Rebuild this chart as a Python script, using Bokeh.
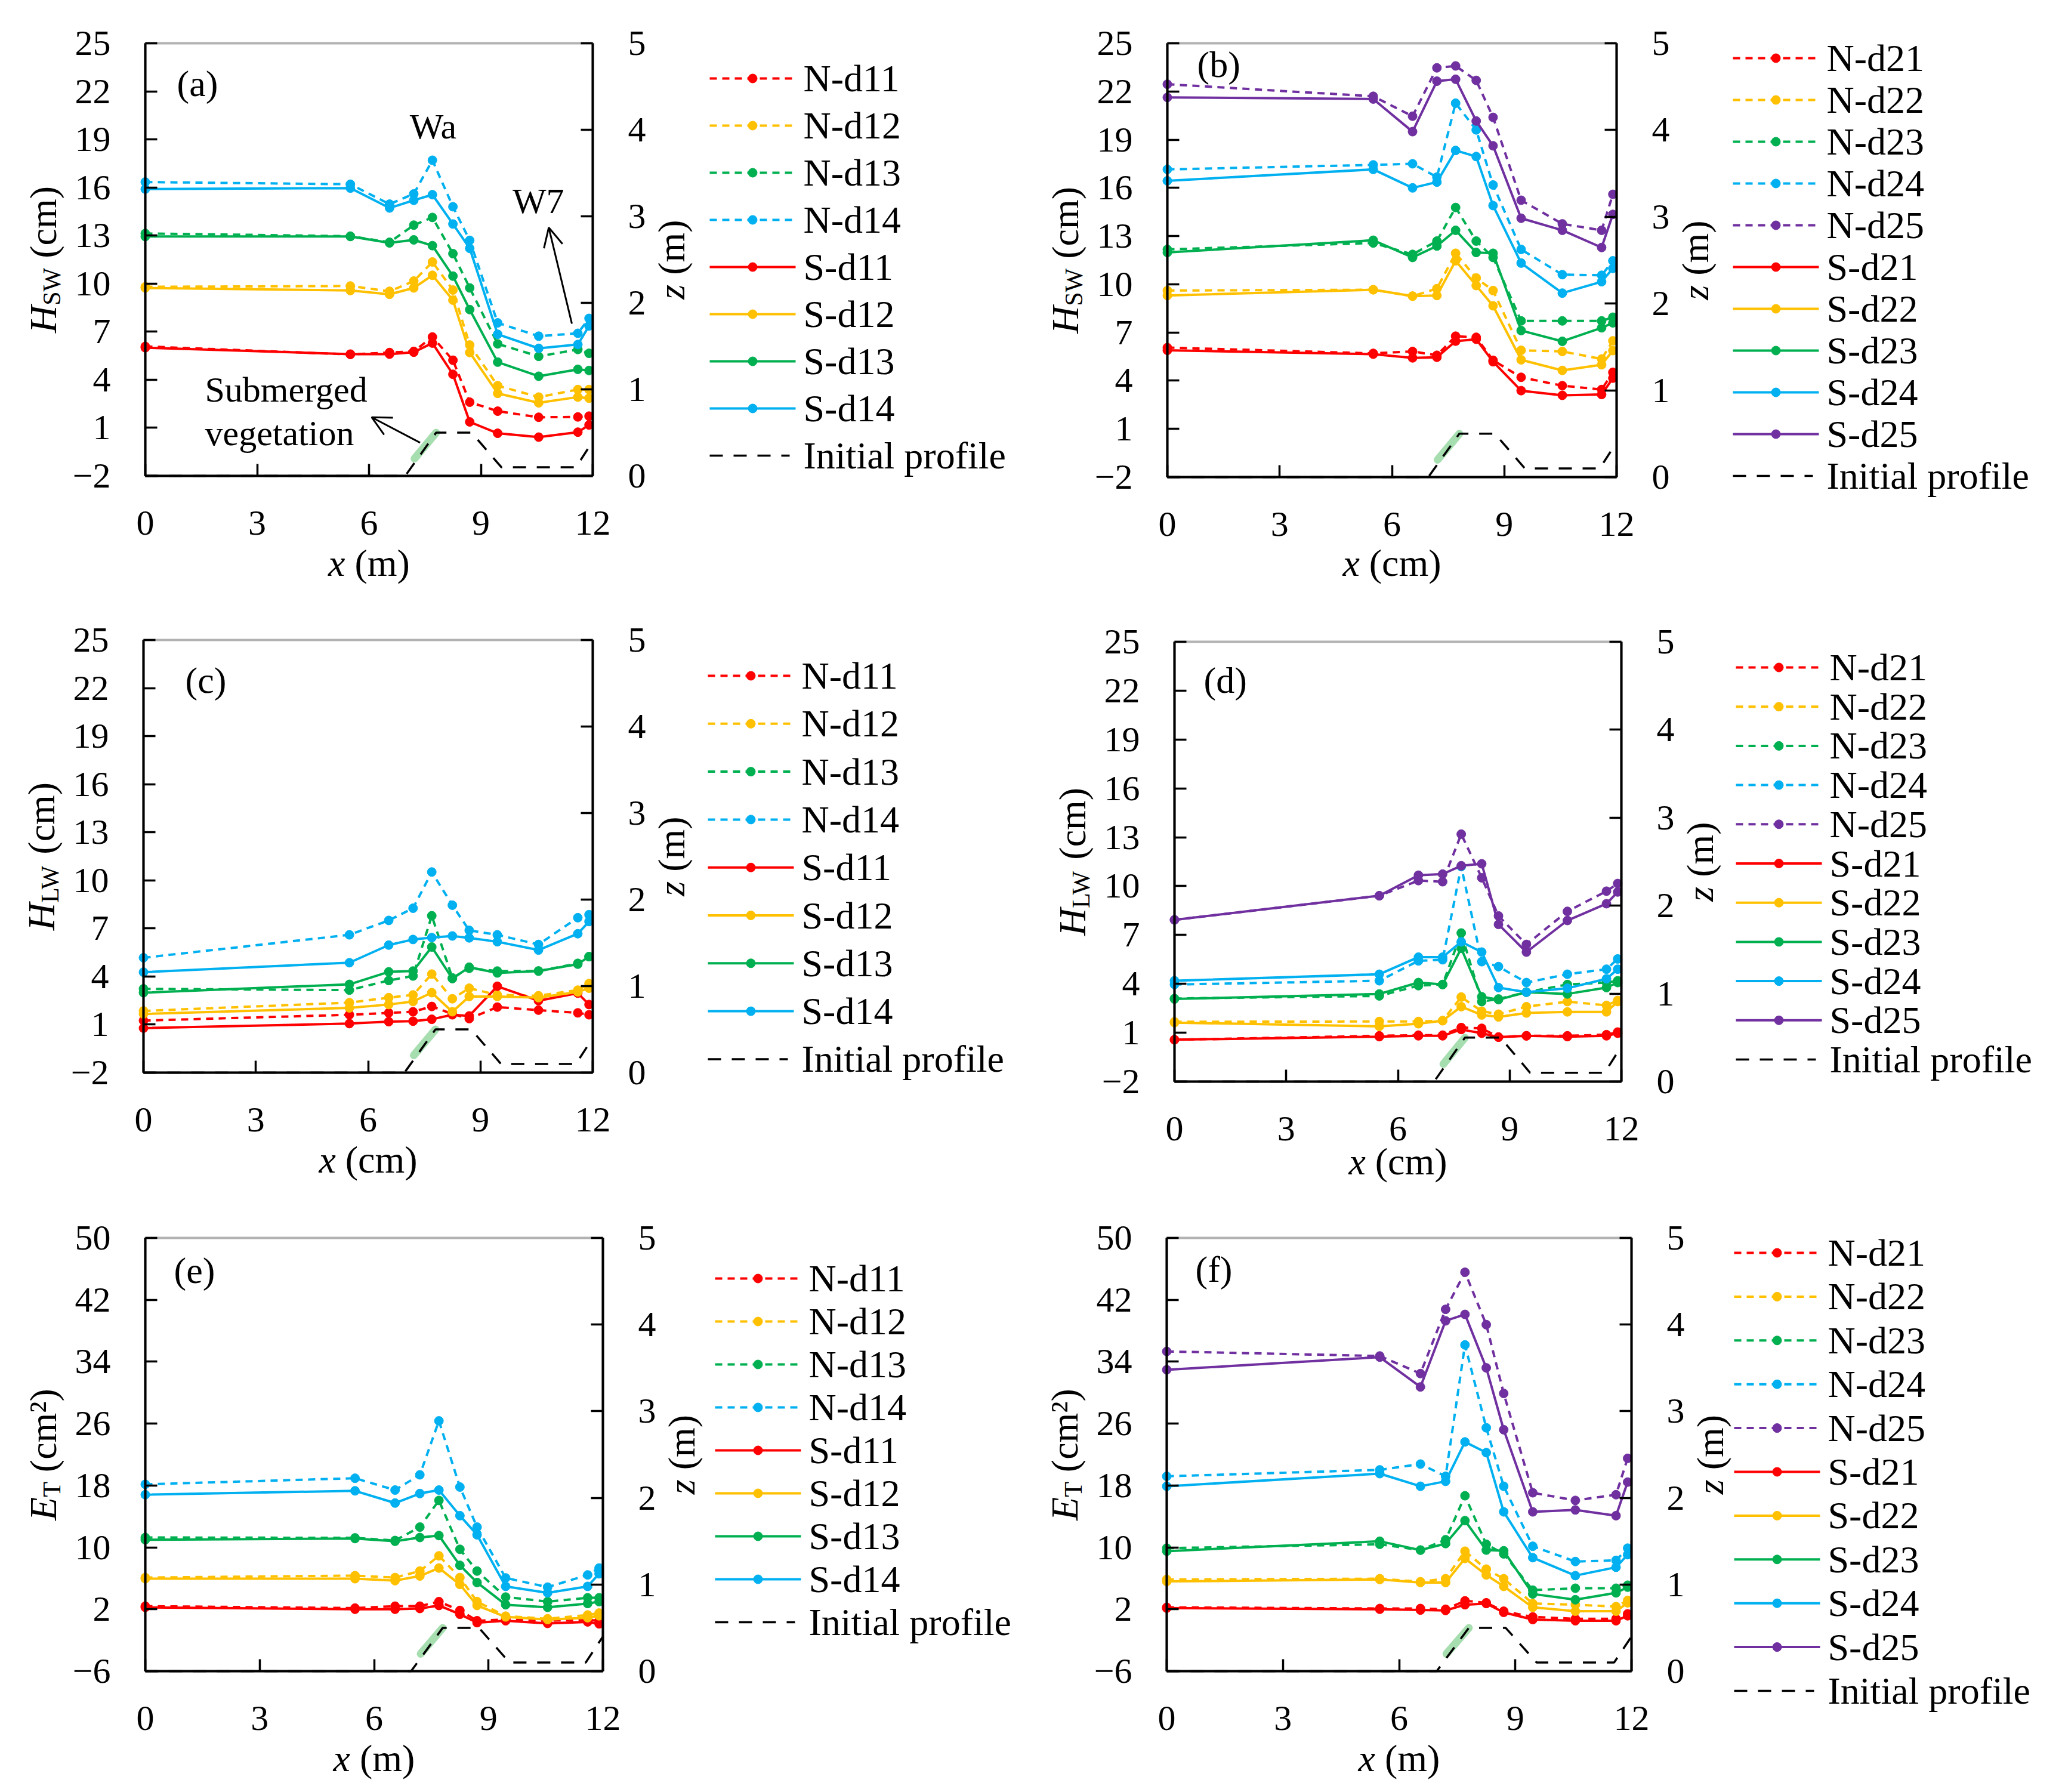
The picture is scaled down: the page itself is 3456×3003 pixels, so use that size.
import math
from bokeh.plotting import figure
from bokeh.models import (Range1d, LinearAxis, FixedTicker, Arrow, OpenHead,
                          BoxAnnotation)
from bokeh.layouts import gridplot
from bokeh.embed import file_html
from bokeh.resources import INLINE
from bokeh.core.properties import value

# ---------------- data ----------------
x_m = [0, 5.5, 6.55, 7.2, 7.7, 8.25, 8.7, 9.45, 10.55, 11.6, 11.9]

# (a) H_SW, case 1
a_N_d11 = [6.08, 5.58, 5.70, 5.77, 6.67, 5.22, 2.60, 2.04, 1.66, 1.68, 1.73]
a_N_d12 = [9.80, 9.85, 9.52, 10.16, 11.35, 9.60, 6.17, 3.63, 2.92, 3.39, 3.39]
a_N_d13 = [13.13, 12.96, 12.58, 13.65, 14.13, 11.87, 9.73, 6.24, 5.46, 5.89, 5.65]
a_N_d14 = [16.34, 16.20, 14.96, 15.60, 17.70, 14.80, 12.70, 7.55, 6.72, 6.90, 7.83]
a_S_d11 = [6.00, 5.60, 5.60, 5.72, 6.29, 4.34, 1.37, 0.66, 0.42, 0.73, 1.18]
a_S_d12 = [9.73, 9.57, 9.33, 9.73, 10.52, 8.97, 5.70, 3.15, 2.56, 2.92, 2.85]
a_S_d13 = [12.94, 12.94, 12.54, 12.73, 12.37, 10.47, 8.38, 5.10, 4.22, 4.65, 4.58]
a_S_d14 = [15.90, 15.96, 14.72, 15.20, 15.55, 13.72, 12.20, 6.84, 5.96, 6.20, 7.36]

# (b) H_SW, case 2
b_N_d21 = [6.06, 5.70, 5.82, 5.58, 6.77, 6.70, 5.27, 4.21, 3.69, 3.45, 4.52]
b_N_d22 = [9.61, 9.66, 9.26, 9.73, 11.93, 10.39, 9.61, 5.89, 5.82, 5.35, 6.48]
b_N_d23 = [12.17, 12.57, 11.86, 12.69, 14.78, 12.69, 11.67, 7.72, 7.72, 7.72, 7.95]
b_N_d24 = [17.15, 17.43, 17.50, 16.67, 21.27, 19.61, 16.18, 12.17, 10.60, 10.56, 11.46]
b_N_d25 = [22.45, 21.70, 20.46, 23.47, 23.59, 22.69, 20.39, 15.23, 13.76, 13.36, 15.60]
b_S_d21 = [5.89, 5.65, 5.42, 5.46, 6.46, 6.58, 5.18, 3.38, 3.09, 3.14, 4.16]
b_S_d22 = [9.30, 9.66, 9.26, 9.30, 11.46, 9.92, 8.66, 5.30, 4.64, 4.99, 5.87]
b_S_d23 = [11.98, 12.74, 11.67, 12.38, 13.36, 11.98, 11.93, 7.12, 6.45, 7.29, 7.60]
b_S_d24 = [16.44, 17.15, 16.00, 16.36, 18.33, 17.95, 14.90, 11.32, 9.45, 10.16, 10.99]
b_S_d25 = [21.63, 21.53, 19.50, 22.64, 22.76, 20.16, 18.62, 14.11, 13.36, 12.29, 14.35]

# (c) H_LW, case 1
c_N_d11 = [1.25, 1.61, 1.73, 1.80, 2.13, 1.66, 1.37, 2.09, 1.90, 1.73, 1.61]
c_N_d12 = [1.85, 2.37, 2.68, 2.85, 4.15, 2.61, 3.27, 2.85, 2.80, 3.15, 3.56]
c_N_d13 = [3.23, 3.15, 3.75, 4.03, 7.79, 3.91, 4.51, 4.34, 4.34, 4.82, 5.24]
c_N_d14 = [5.17, 6.60, 7.50, 8.26, 10.52, 8.45, 6.88, 6.60, 6.00, 7.67, 7.86]
c_S_d11 = [0.78, 1.06, 1.18, 1.21, 1.33, 1.61, 1.54, 3.39, 2.49, 2.96, 2.25]
c_S_d12 = [1.66, 2.04, 2.25, 2.44, 2.99, 1.80, 2.75, 2.75, 2.68, 3.04, 3.27]
c_S_d13 = [2.99, 3.51, 4.29, 4.34, 5.84, 3.87, 4.58, 4.22, 4.34, 4.77, 5.24]
c_S_d14 = [4.27, 4.86, 5.96, 6.31, 6.43, 6.53, 6.41, 6.17, 5.65, 6.67, 7.43]

# (d) H_LW, case 2
d_N_d21 = [0.57, 0.81, 0.85, 0.85, 1.32, 1.27, 0.73, 0.81, 0.81, 0.88, 1.04]
d_N_d22 = [1.67, 1.69, 1.69, 1.74, 3.19, 2.32, 2.14, 2.60, 2.91, 2.68, 2.98]
d_N_d23 = [3.10, 3.26, 3.89, 3.96, 7.12, 2.91, 3.07, 3.49, 3.96, 4.08, 4.19]
d_N_d24 = [3.96, 4.19, 5.41, 5.48, 11.20, 5.36, 5.06, 4.08, 4.59, 4.90, 5.53]
d_N_d25 = [7.93, 9.41, 10.34, 10.27, 13.19, 10.51, 8.17, 6.42, 8.45, 9.69, 10.16]
d_S_d21 = [0.57, 0.76, 0.81, 0.81, 1.20, 0.97, 0.73, 0.81, 0.76, 0.81, 0.97]
d_S_d22 = [1.62, 1.39, 1.55, 1.74, 2.60, 2.09, 1.97, 2.21, 2.28, 2.28, 2.91]
d_S_d23 = [3.07, 3.38, 4.08, 3.96, 6.18, 3.21, 3.03, 3.49, 3.38, 3.77, 4.08]
d_S_d24 = [4.19, 4.59, 5.64, 5.64, 6.58, 5.95, 3.77, 3.49, 3.73, 4.31, 4.90]
d_S_d25 = [7.93, 9.41, 10.67, 10.74, 11.25, 11.37, 7.65, 5.95, 7.89, 8.92, 9.64]

# (e) E_T, case 1
e_N_d11 = [2.40, 2.15, 2.40, 2.40, 2.99, 1.85, 0.52, 0.67, 0.52, 0.62, 0.52]
e_N_d12 = [6.10, 6.35, 6.10, 6.94, 8.91, 6.10, 2.99, 1.11, 0.77, 1.26, 1.51]
e_N_d13 = [11.28, 11.23, 10.89, 12.62, 16.07, 9.75, 6.94, 3.58, 2.99, 3.48, 3.48]
e_N_d14 = [18.15, 18.94, 17.41, 19.38, 26.35, 17.80, 12.62, 6.05, 4.86, 6.44, 7.33]
e_S_d11 = [2.25, 2.00, 2.00, 2.10, 2.49, 1.36, 0.27, 0.52, 0.17, 0.37, 0.12]
e_S_d12 = [5.95, 5.95, 5.70, 6.30, 7.33, 5.21, 2.49, 1.01, 0.67, 0.91, 1.16]
e_S_d13 = [10.99, 11.14, 10.79, 11.28, 11.53, 7.68, 5.46, 2.59, 2.25, 2.74, 2.99]
e_S_d14 = [16.81, 17.31, 15.73, 16.96, 17.41, 14.10, 11.63, 4.96, 4.12, 4.96, 6.59]

# (f) E_T, case 2
f_N_d21 = [2.25, 2.10, 2.10, 2.00, 3.09, 2.84, 1.75, 1.01, 0.77, 0.77, 1.41]
f_N_d22 = [5.85, 5.95, 5.56, 5.95, 9.51, 7.19, 5.95, 2.74, 2.59, 2.35, 3.14]
f_N_d23 = [9.90, 10.40, 9.65, 10.99, 16.67, 10.40, 9.16, 4.47, 4.72, 4.72, 5.11]
f_N_d24 = [19.19, 20.02, 20.77, 19.19, 36.17, 25.46, 17.90, 10.15, 8.17, 8.32, 9.90]
f_N_d25 = [35.33, 34.74, 32.47, 40.77, 45.56, 38.79, 29.90, 17.06, 16.07, 16.81, 21.51]
f_S_d21 = [2.15, 2.00, 1.90, 1.85, 2.59, 2.74, 1.60, 0.67, 0.52, 0.52, 1.16]
f_S_d22 = [5.60, 5.85, 5.46, 5.46, 8.57, 6.44, 4.96, 2.25, 1.75, 1.75, 2.84]
f_S_d23 = [9.51, 10.79, 9.65, 10.49, 13.46, 9.65, 9.56, 3.98, 3.23, 4.12, 4.86]
f_S_d24 = [17.90, 19.53, 17.90, 18.54, 23.63, 22.25, 14.59, 8.67, 6.35, 7.43, 9.06]
f_S_d25 = [32.96, 34.59, 30.74, 39.28, 40.12, 33.21, 25.21, 14.59, 14.84, 14.10, 18.44]

# initial bed profile (right axis, z in m) and vegetation patch
profile_x = [0, 6.97, 7.8, 8.75, 9.55, 11.55, 12.0]
profile_z = [0, 0, 0.5, 0.5, 0.1, 0.1, 0.4]
veg_x = [7.22, 7.8]
veg_z = [0.2, 0.5]

# tick values
x_ticks = [0, 3, 6, 9, 12]
h_ticks = [-2, 1, 4, 7, 10, 13, 16, 19, 22, 25]
e_ticks = [-6, 2, 10, 18, 26, 34, 42, 50]
z_ticks = [0, 1, 2, 3, 4, 5]

# ---------------- style / geometry ----------------
FONT = "Liberation Serif"
RED, YEL, GRN, BLU, PUR = "#FF0000", "#FFC000", "#00B050", "#00B0F0", "#7030A0"
COLS4 = [RED, YEL, GRN, BLU]
COLS5 = [RED, YEL, GRN, BLU, PUR]
TICK_FS = 60
AX_FS = 64
SUB_FS = 42
LEG_FS = 64
PANEL_FS = 62
NOTE_FS = 60
LINE_W = 4
FRAME_W = 4
MARK = 15
DASH = "12 9"
PROF_DASH = "22 18"
SPACE_EM = 0.25

ROW_H = [1000, 1000, 987]
COL_W = 1720

# box (plot area) and legend geometry in canvas pixels of each panel
GEOM = {
    "a": dict(H=ROW_H[0], bl=243, bt=72, fw=750, fh=725, leg_x=1189, leg_y=131, pitch=79.0, lab=(53, 67), xly=146),
    "b": dict(H=ROW_H[0], bl=236, bt=72, fw=753, fh=727, leg_x=1184, leg_y=97, pitch=70.0, lab=(50, 35), xly=144),
    "c": dict(H=ROW_H[1], bl=240, bt=72, fw=753, fh=725, leg_x=1186, leg_y=132, pitch=80.3, lab=(70, 67), xly=146),
    "d": dict(H=ROW_H[1], bl=248, bt=75, fw=749, fh=737, leg_x=1189, leg_y=118, pitch=65.7, lab=(49, 64), xly=134),
    "e": dict(H=ROW_H[2], bl=243, bt=74, fw=767, fh=726, leg_x=1198, leg_y=142, pitch=72.0, lab=(48, 54), xly=146),
    "f": dict(H=ROW_H[2], bl=235, bt=74, fw=779, fh=726, leg_x=1186, leg_y=99, pitch=73.4, lab=(48, 52), xly=146),
}
TICK_GAP_L = 58
TICK_GAP_R = 59
TICK_DY_B = 79
YLAB_DX = 171
ZLAB_DX = 132
LEG_GLYPH_W = 144
LEG_STANDOFF = 13


def make_panel(key, series, yrange, yticks, x_unit, ylab):
    g = GEOM[key]
    W, H = COL_W, g["H"]
    bl, bt, fw, fh = g["bl"], g["bt"], g["fw"], g["fh"]
    y0, y1 = yrange

    def X(px):
        return (px - bl) / fw * 12.0

    def Y(py):
        return y1 - (py - bt) / fh * (y1 - y0)

    def Z(py):
        return 5.0 - (py - bt) / fh * 5.0

    p = figure(width=W, height=H, x_range=Range1d(X(0), X(W)),
               y_range=Range1d(Y(H), Y(0)), x_axis_location=None,
               y_axis_location=None, output_backend="svg",
               toolbar_location=None, min_border=0)
    p.grid.visible = False
    p.outline_line_color = None
    p.background_fill_color = "white"
    p.border_fill_color = "white"
    p.extra_y_ranges = {"z": Range1d(Z(H), Z(0))}

    # axes drawn on the box edges (their numbers are written below as text)
    xax = LinearAxis(ticker=FixedTicker(ticks=x_ticks), fixed_location=y0, bounds=(0, 12))
    yax = LinearAxis(ticker=FixedTicker(ticks=yticks), fixed_location=0, bounds=(y0, y1))
    zax = LinearAxis(y_range_name="z", ticker=FixedTicker(ticks=z_ticks),
                     fixed_location=12, bounds=(0, 5))
    for ax, side in ((xax, "below"), (yax, "left"), (zax, "right")):
        ax.axis_line_width = FRAME_W
        ax.axis_line_color = "black"
        ax.major_tick_in = 20
        ax.major_tick_out = 0
        ax.major_tick_line_width = 3.5
        ax.major_tick_line_color = "black"
        ax.minor_tick_line_color = None
        ax.major_label_standoff = 0
        ax.major_label_text_color = None
        ax.major_label_text_font_size = "0px"
        p.add_layout(ax, side)
    p.add_layout(BoxAnnotation(left=0, right=12, bottom=y0, top=y1,
                               fill_color=None, fill_alpha=0,
                               line_color="black", line_width=FRAME_W))

    def txt(xs, ys, texts, size, italic=False, align="left", angle=0.0,
            yrn="default"):
        p.text(x=xs, y=ys, text=texts, text_font=value(FONT),
               text_font_size=value(f"{size}px"),
               text_font_style="italic" if italic else "normal",
               text_align=align, text_baseline="middle", angle=angle,
               text_color="black", y_range_name=yrn)

    # tick labels
    ylabels = [("\u2212" + str(abs(t))) if t < 0 else str(t) for t in yticks]
    txt([X(bl - TICK_GAP_L)] * len(yticks), yticks, ylabels, TICK_FS, align="right")
    txt(x_ticks, [Y(bt + fh + TICK_DY_B)] * len(x_ticks), [str(t) for t in x_ticks],
        TICK_FS, align="center")
    txt([X(bl + fw + TICK_GAP_R)] * len(z_ticks), z_ticks, [str(t) for t in z_ticks],
        TICK_FS, align="left", yrn="z")

    # series
    for name, ys, color, dashed in series:
        p.line(x_m, ys, line_color=color, line_width=LINE_W,
               line_dash=DASH if dashed else "solid")
        p.scatter(x_m, ys, size=MARK, marker="circle", fill_color=color, line_color=color)
    p.line(veg_x, veg_z, y_range_name="z", line_color="#4DBE62",
           line_width=13, line_alpha=0.5, line_cap="round")
    p.line(profile_x, profile_z, y_range_name="z", line_color="black",
           line_width=3.5, line_dash=PROF_DASH)

    # legend (drawn beside the box)
    entries = [(n, c, d) for n, _, c, d in series] + [("Initial profile", "black", None)]
    gx0, gx1 = g["leg_x"], g["leg_x"] + LEG_GLYPH_W
    for i, (name, color, dashed) in enumerate(entries):
        yc = Y(g["leg_y"] + i * g["pitch"])
        if dashed is None:
            p.line([X(gx0), X(gx1 - 10)], [yc, yc], line_color="black", line_width=3.5,
                   line_dash=PROF_DASH)
        else:
            p.line([X(gx0), X(gx1)], [yc, yc], line_color=color, line_width=LINE_W,
                   line_dash=DASH if dashed else "solid")
            p.scatter([X((gx0 + gx1) / 2)], [yc], size=MARK, marker="circle",
                      fill_color=color, line_color=color)
        txt([X(gx1 + LEG_STANDOFF)], [yc], [name], LEG_FS)

    # pieces: (text, italic, size, width_em, lead_em, shift_px)
    def vertical_title(cx, cy, pieces):
        L = sum(s * (w + ld) for _, _, s, w, ld, _ in pieces)
        pos = cy + L / 2
        for t, it, s, w, ld, dx in pieces:
            pos -= s * ld
            txt([X(cx + dx)], [Y(pos)], [t], s, italic=it, angle=math.pi / 2)
            pos -= s * w

    def horizontal_title(cx, cy, pieces):
        L = sum(s * (w + ld) for _, _, s, w, ld, _ in pieces)
        pos = cx - L / 2
        for t, it, s, w, ld, dy in pieces:
            pos += s * ld
            txt([X(pos)], [Y(cy + dy)], [t], s, italic=it)
            pos += s * w

    main, main_w, sub, sub_w, unit, unit_w = ylab
    vertical_title(bl - YLAB_DX, bt + fh / 2, [
        (main, True, AX_FS, main_w, 0, 0),
        (sub, False, SUB_FS, sub_w, 0, 14),
        (unit, False, AX_FS, unit_w, SPACE_EM, 0),
    ])
    vertical_title(bl + fw + ZLAB_DX, bt + fh / 2, [
        ("z", True, AX_FS, 0.389, 0, 0),
        ("(m)", False, AX_FS, 1.444, SPACE_EM, 0),
    ])
    unit_w_x = 1.444 if x_unit == "(m)" else 1.888
    horizontal_title(bl + fw / 2, bt + fh + g["xly"], [
        ("x", True, AX_FS, 0.444, 0, 0),
        (x_unit, False, AX_FS, unit_w_x, SPACE_EM, 0),
    ])

    # panel letter
    lx, ly = g["lab"]
    txt([X(bl + lx)], [Y(bt + ly)], [f"({key})"], PANEL_FS)
    return p, txt


def build_series(prefix, N, S, cols):
    out = []
    for i, ys in enumerate(N):
        out.append((f"N-d{prefix}{i+1}", ys, cols[i], True))
    for i, ys in enumerate(S):
        out.append((f"S-d{prefix}{i+1}", ys, cols[i], False))
    return out


HSW = ("H", 0.722, "SW", 1.5, "(cm)", 1.888)
HLW = ("H", 0.722, "LW", 1.555, "(cm)", 1.888)
ET = ("E", 0.611, "T", 0.611, "(cm\u00b2)", 2.188)

pa, txt_a = make_panel("a", build_series(1, [a_N_d11, a_N_d12, a_N_d13, a_N_d14],
                                         [a_S_d11, a_S_d12, a_S_d13, a_S_d14], COLS4),
                       (-2, 25), h_ticks, "(m)", HSW)
pb, _ = make_panel("b", build_series(2, [b_N_d21, b_N_d22, b_N_d23, b_N_d24, b_N_d25],
                                     [b_S_d21, b_S_d22, b_S_d23, b_S_d24, b_S_d25], COLS5),
                   (-2, 25), h_ticks, "(cm)", HSW)
pc, _ = make_panel("c", build_series(1, [c_N_d11, c_N_d12, c_N_d13, c_N_d14],
                                     [c_S_d11, c_S_d12, c_S_d13, c_S_d14], COLS4),
                   (-2, 25), h_ticks, "(cm)", HLW)
pd_, _ = make_panel("d", build_series(2, [d_N_d21, d_N_d22, d_N_d23, d_N_d24, d_N_d25],
                                      [d_S_d21, d_S_d22, d_S_d23, d_S_d24, d_S_d25], COLS5),
                    (-2, 25), h_ticks, "(cm)", HLW)
pe, _ = make_panel("e", build_series(1, [e_N_d11, e_N_d12, e_N_d13, e_N_d14],
                                     [e_S_d11, e_S_d12, e_S_d13, e_S_d14], COLS4),
                   (-6, 50), e_ticks, "(m)", ET)
pf, _ = make_panel("f", build_series(2, [f_N_d21, f_N_d22, f_N_d23, f_N_d24, f_N_d25],
                                     [f_S_d21, f_S_d22, f_S_d23, f_S_d24, f_S_d25], COLS5),
                   (-6, 50), e_ticks, "(m)", ET)

# annotations of panel (a)
txt_a([7.72], [19.8], ["Wa"], NOTE_FS, align="center")
txt_a([10.54], [15.15], ["W7"], NOTE_FS, align="center")
txt_a([1.6], [3.39], ["Submerged"], NOTE_FS)
txt_a([1.6], [0.66], ["vegetation"], NOTE_FS)
pa.add_layout(Arrow(end=OpenHead(size=32, line_width=3, line_color="black"),
                    x_start=11.44, y_start=7.5, x_end=10.82, y_end=13.5,
                    line_width=3, line_color="black"))
pa.add_layout(Arrow(end=OpenHead(size=32, line_width=3, line_color="black"),
                    x_start=7.37, y_start=0.07, x_end=6.07, y_end=1.66,
                    line_width=3, line_color="black"))

grid = gridplot([[pa, pb], [pc, pd_], [pe, pf]], toolbar_location=None)
open("out.html", "w").write(file_html(grid, INLINE))
